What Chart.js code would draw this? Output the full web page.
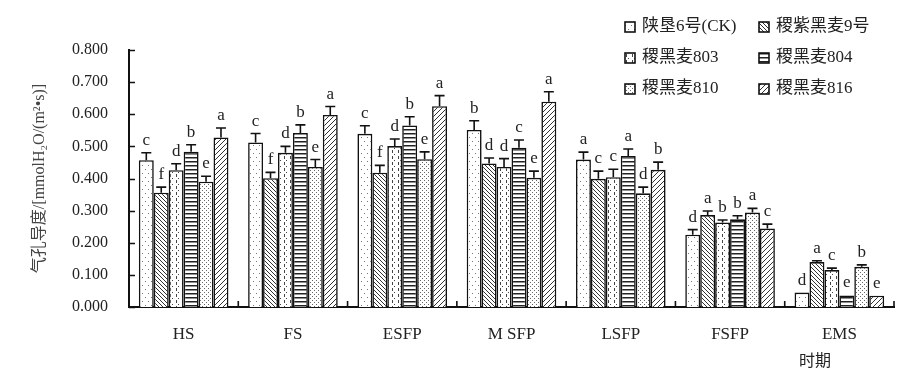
<!DOCTYPE html>
<html>
<head>
<meta charset="utf-8">
<script src="https://cdn.jsdelivr.net/npm/chart.js@4.4.0/dist/chart.umd.min.js"></script>
<style>
html, body { margin: 0; background: #fff; }
</style>
</head>
<body>
<canvas id="chart" width="911" height="379"></canvas>
<script>
// periods and varieties
const periods = ['HS', 'FS', 'ESFP', 'M SFP', 'LSFP', 'FSFP', 'EMS'];
const varieties = ['陕垦6号(CK)', '稷紫黑麦9号', '稷黑麦803', '稷黑麦804', '稷黑麦810', '稷黑麦816'];
const yTicks = [0, 0.1, 0.2, 0.3, 0.4, 0.5, 0.6, 0.7, 0.8];

// stomatal conductance, mean values
const shaanken6 = [0.457, 0.512, 0.539, 0.551, 0.459, 0.225, 0.045];
const jizi9 = [0.356, 0.401, 0.418, 0.447, 0.399, 0.286, 0.140];
const ji803 = [0.426, 0.480, 0.501, 0.436, 0.404, 0.263, 0.115];
const ji804 = [0.483, 0.542, 0.565, 0.496, 0.470, 0.273, 0.036];
const ji810 = [0.390, 0.436, 0.460, 0.402, 0.354, 0.294, 0.125];
const ji816 = [0.528, 0.598, 0.625, 0.639, 0.427, 0.244, 0.035];

// standard errors
const errShaanken6 = [0.023, 0.028, 0.025, 0.029, 0.023, 0.016, 0];
const errJizi9 = [0.017, 0.018, 0.023, 0.017, 0.024, 0.013, 0.004];
const err803 = [0.020, 0.020, 0.022, 0.026, 0.025, 0.008, 0.006];
const err804 = [0.022, 0.025, 0.027, 0.024, 0.022, 0.011, 0];
const err810 = [0.017, 0.023, 0.023, 0.021, 0.019, 0.013, 0.006];
const err816 = [0.029, 0.026, 0.033, 0.031, 0.024, 0.014, 0];

// significance letters
const sigShaanken6 = ['c', 'c', 'c', 'b', 'a', 'd', 'd'];
const sigJizi9 = ['f', 'f', 'f', 'd', 'c', 'a', 'a'];
const sig803 = ['d', 'd', 'd', 'd', 'c', 'b', 'c'];
const sig804 = ['b', 'b', 'b', 'c', 'a', 'b', 'e'];
const sig810 = ['e', 'e', 'e', 'e', 'd', 'a', 'b'];
const sig816 = ['a', 'a', 'a', 'a', 'b', 'c', 'e'];

const serif = '"Liberation Serif", "Times New Roman", "Noto Sans CJK SC", serif';

function makePattern(size, draw) {
    const c = document.createElement('canvas');
    c.width = size[0];
    c.height = size[1];
    const g = c.getContext('2d');
    g.fillStyle = '#fff';
    g.fillRect(0, 0, c.width, c.height);
    draw(g);
    return c.getContext('2d').createPattern(c, 'repeat');
}

const patterns = [
    makePattern([6, 8], g => {
        g.fillStyle = '#777';
        g.fillRect(1, 1, 1, 1);
        g.fillRect(4, 5, 1, 1);
    }),
    makePattern([4, 4], g => {
        g.strokeStyle = '#333';
        g.lineWidth = 1;
        g.beginPath();
        g.moveTo(-1, -1); g.lineTo(5, 5);
        g.moveTo(-1, 3); g.lineTo(1, 5);
        g.moveTo(3, -1); g.lineTo(5, 1);
        g.stroke();
    }),
    makePattern([6, 6], g => {
        g.fillStyle = '#444';
        g.fillRect(2, 0, 1, 3);
        g.fillRect(4, 4, 1, 1);
    }),
    makePattern([4, 4], g => {
        g.fillStyle = '#222';
        g.fillRect(0, 1, 4, 1.5);
    }),
    makePattern([4, 4], g => {
        g.fillStyle = '#666';
        g.fillRect(0, 0, 1, 1);
        g.fillRect(2, 2, 1, 1);
    }),
    makePattern([5, 5], g => {
        g.strokeStyle = '#333';
        g.lineWidth = 1;
        g.beginPath();
        g.moveTo(-1, 6); g.lineTo(6, -1);
        g.moveTo(-1, 1); g.lineTo(1, -1);
        g.moveTo(4, 6); g.lineTo(6, 4);
        g.stroke();
    })
];

const seriesValues = [shaanken6, jizi9, ji803, ji804, ji810, ji816];
const seriesErrors = [errShaanken6, errJizi9, err803, err804, err810, err816];
const seriesLetters = [sigShaanken6, sigJizi9, sig803, sig804, sig810, sig816];

const datasets = varieties.map((name, i) => ({
    label: name,
    data: seriesValues[i],
    errors: seriesErrors[i],
    letters: seriesLetters[i],
    backgroundColor: patterns[i],
    borderColor: '#111',
    borderWidth: 1.6,
    borderSkipped: 'bottom',
    categoryPercentage: 0.82,
    barPercentage: 1.0
}));

const decorPlugin = {
    id: 'decor',
    afterDatasetsDraw(chart) {
        const ctx = chart.ctx;
        const x = chart.scales.x;
        const y = chart.scales.y;
        ctx.save();

        // error bars and letters
        chart.data.datasets.forEach((ds, di) => {
            const meta = chart.getDatasetMeta(di);
            meta.data.forEach((bar, i) => {
                const v = ds.data[i];
                const top = y.getPixelForValue(v + ds.errors[i]);
                const base = y.getPixelForValue(v);
                if (ds.errors[i] > 0) {
                    ctx.strokeStyle = '#111';
                    ctx.lineWidth = 1.6;
                    ctx.beginPath();
                    ctx.moveTo(bar.x, base);
                    ctx.lineTo(bar.x, top);
                    ctx.moveTo(bar.x - 5, top);
                    ctx.lineTo(bar.x + 5, top);
                    ctx.stroke();
                }

                ctx.fillStyle = '#222';
                ctx.font = '17px ' + serif;
                ctx.textAlign = 'center';
                ctx.textBaseline = 'alphabetic';
                ctx.fillText(ds.letters[i], bar.x, top - 8);
            });
        });

        // inward tick marks
        ctx.strokeStyle = '#111';
        ctx.lineWidth = 1.6;
        ctx.beginPath();
        yTicks.forEach(t => {
            const py = Math.round(y.getPixelForValue(t)) + 0.5;
            ctx.moveTo(x.left, py);
            ctx.lineTo(x.left + 6, py);
        });
        for (let i = 1; i <= periods.length; i++) {
            const px = x.left + (x.right - x.left) * i / periods.length;
            ctx.moveTo(px, y.bottom);
            ctx.lineTo(px, y.bottom - 6);
        }
        ctx.stroke();

        // x axis title
        ctx.fillStyle = '#222';
        ctx.font = '16px ' + serif;
        ctx.textAlign = 'center';
        ctx.textBaseline = 'middle';
        ctx.fillText('时期', 815, 362);

        // legend
        const legendPos = [[625, 27], [759, 27], [625, 58], [759, 58], [625, 89], [759, 89]];
        chart.data.datasets.forEach((ds, di) => {
            const [lx, ly] = legendPos[di];
            ctx.fillStyle = ds.backgroundColor;
            ctx.fillRect(lx, ly - 5, 10, 10);
            ctx.strokeStyle = '#111';
            ctx.lineWidth = 1.6;
            ctx.strokeRect(lx, ly - 5, 10, 10);
            ctx.fillStyle = '#222';
            ctx.font = '17px ' + serif;
            ctx.textAlign = 'left';
            ctx.textBaseline = 'middle';
            ctx.fillText(ds.label, lx + 17, ly);
        });
        ctx.restore();
    }
};

const ctx = document.getElementById('chart').getContext('2d');
const chart = new Chart(ctx, {
    type: 'bar',
    data: {
        labels: periods,
        datasets: datasets
    },
    options: {
        responsive: false,
        animation: false,
        devicePixelRatio: 1,
        layout: {
            padding: { top: 50, right: 17, left: 0, bottom: 0 }
        },
        plugins: {
            legend: { display: false },
            tooltip: { enabled: false }
        },
        scales: {
            x: {
                grid: { display: false, drawTicks: false },
                border: { display: true, color: '#111', width: 2 },
                ticks: {
                    color: '#222',
                    font: { family: serif, size: 17 },
                    padding: 17
                },
                afterFit(scale) { scale.height = 72; }
            },
            y: {
                min: 0,
                max: 0.8,
                grid: { display: false, drawTicks: false },
                border: { display: true, color: '#111', width: 2 },
                afterBuildTicks(scale) {
                    scale.ticks = yTicks.map(v => ({ value: v }));
                },
                ticks: {
                    color: '#222',
                    font: { family: serif, size: 16 },
                    padding: 21,
                    callback: v => v.toFixed(3)
                },
                title: {
                    display: true,
                    text: '气孔导度/[mmolH₂O/(m²•s)]',
                    color: '#444',
                    font: { family: serif, size: 16 },
                    padding: { top: 30, bottom: 0 }
                },
                afterFit(scale) { scale.width = 129; }
            }
        }
    },
    plugins: [decorPlugin]
});
</script>
</body>
</html>
